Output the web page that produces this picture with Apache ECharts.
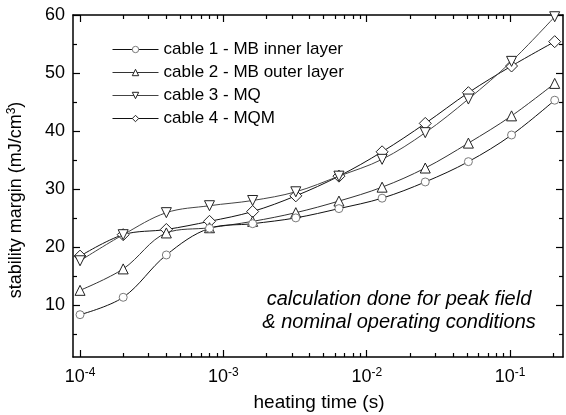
<!DOCTYPE html>
<html>
<head>
<meta charset="utf-8">
<script src="https://cdn.jsdelivr.net/npm/echarts@6/dist/echarts.min.js"></script>
<style>
  html, body { margin: 0; padding: 0; background: #fff; }
  #chart { width: 566px; height: 415px; }
</style>
</head>
<body>
<div id="chart"></div>
<script>
// heating times (s), doubling from 1e-4
var times = [1e-4, 2e-4, 4e-4, 8e-4, 1.6e-3, 3.2e-3, 6.4e-3, 1.28e-2, 2.56e-2, 5.12e-2, 1.024e-1, 2.048e-1];
// stability margin (mJ/cm3)
var cable1 = [8.3, 11.3, 18.6, 23.2, 24.0, 25.0, 26.6, 28.4, 31.2, 34.7, 39.3, 45.3];
var cable2 = [12.5, 16.2, 22.4, 23.3, 24.4, 25.9, 27.9, 30.3, 33.6, 37.9, 42.6, 48.2];
var cable3 = [17.6, 22.1, 25.9, 27.1, 28.0, 29.5, 32.2, 35.1, 39.7, 45.5, 52.0, 59.7];
var cable4 = [18.4, 22.1, 23.0, 24.4, 26.1, 28.8, 32.2, 36.4, 41.3, 46.6, 51.2, 55.4];
var seriesNames = ['cable 1 - MB inner layer', 'cable 2 - MB outer layer', 'cable 3 - MQ', 'cable 4 - MQM'];

var xMajor = [1e-4, 1e-3, 1e-2, 1e-1];
var yMajor = [10, 20, 30, 40, 50, 60];
var yMinor = [5, 15, 25, 35, 45, 55];

var X_MIN = 8.93e-5, X_MAX = 0.234;
var Y_MIN = 1, Y_MAX = 60;
var FONT = '"Liberation Sans", Arial, sans-serif';

// log minor ticks 2..9 x 10^k
var xMinor = [];
[1e-4, 1e-3, 1e-2, 1e-1].forEach(function (d) {
  for (var k = 2; k <= 9; k++) {
    var v = d * k;
    if (v < X_MAX) xMinor.push(v);
  }
});

function pairs(ys) {
  return ys.map(function (y, i) { return [times[i], y]; });
}

var chart = echarts.init(document.getElementById('chart'));

var gridBox = { left: 73, top: 15, right: 3, bottom: 58 };

function xAx(grid, pos, ticks, len, showLabel, showLine) {
  return {
    type: 'log', logBase: 10, gridIndex: grid, position: pos,
    min: X_MIN, max: X_MAX,
    axisLine: { show: showLine, onZero: false, lineStyle: { color: '#000', width: 1.5 } },
    axisTick: { show: true, inside: true, length: len, customValues: ticks, lineStyle: { color: '#000', width: 1.2 } },
    axisLabel: {
      show: showLabel, customValues: xMajor, margin: 10, color: '#000',
      formatter: function (v) {
        var e = Math.round(Math.log10(v));
        return '{b|10}{s|' + e + '}';
      },
      rich: {
        b: { fontSize: 18, fontFamily: FONT, color: '#000' },
        s: { fontSize: 12, fontFamily: FONT, color: '#000', verticalAlign: 'top', padding: [0, 0, 8, 0] }
      }
    },
    splitLine: { show: false },
    minorTick: { show: false }
  };
}

function yAx(grid, pos, ticks, len, showLabel, showLine) {
  return {
    type: 'value', gridIndex: grid, position: pos,
    min: Y_MIN, max: Y_MAX,
    axisLine: { show: showLine, onZero: false, lineStyle: { color: '#000', width: 1.5 } },
    axisTick: { show: true, inside: true, length: len, customValues: ticks, lineStyle: { color: '#000', width: 1.2 } },
    axisLabel: { show: showLabel, customValues: yMajor, margin: 8, color: '#000', fontSize: 18, fontFamily: FONT },
    splitLine: { show: false }
  };
}

var markers = [
  { symbol: 'circle', size: 8, rotate: 0, border: '#7a7a7a' },
  { symbol: 'triangle', size: 10, rotate: 0, border: '#222' },
  { symbol: 'triangle', size: 10, rotate: 180, border: '#222' },
  { symbol: 'diamond', size: 12, rotate: 0, border: '#222' }
];
var lineColors = ['#111', '#333', '#444', '#111'];

var series = [cable1, cable2, cable3, cable4].map(function (ys, i) {
  var m = markers[i];
  return {
    name: seriesNames[i],
    type: 'line',
    xAxisIndex: 0, yAxisIndex: 0,
    data: pairs(ys),
    smooth: 0.35,
    symbol: m.symbol,
    symbolSize: m.size,
    symbolRotate: m.rotate,
    showAllSymbol: true,
    color: lineColors[i],
    lineStyle: { color: lineColors[i], width: 1 },
    itemStyle: { color: '#fff', borderColor: m.border, borderWidth: 1 },
    z: 10 - i
  };
});

chart.setOption({
  backgroundColor: '#fff',
  animation: false,
  grid: [
    Object.assign({}, gridBox),
    Object.assign({}, gridBox)
  ],
  xAxis: [
    xAx(0, 'bottom', xMajor, 7, true, true),
    xAx(0, 'top', xMajor, 7, false, true),
    xAx(1, 'bottom', xMinor, 4, false, false),
    xAx(1, 'top', xMinor, 4, false, false)
  ],
  yAxis: [
    yAx(0, 'left', yMajor, 7, true, true),
    yAx(0, 'right', yMajor, 7, false, true),
    yAx(1, 'left', yMinor, 4, false, false),
    yAx(1, 'right', yMinor, 4, false, false)
  ],
  legend: {
    orient: 'vertical',
    left: 112, top: 41, padding: 0,
    itemWidth: 46, itemHeight: 8, itemGap: 6,
    lineStyle: { width: 1 },
    itemStyle: { borderWidth: 1 },
    textStyle: { fontSize: 17, fontFamily: FONT, color: '#000', lineHeight: 16 },
    data: seriesNames
  },
  graphic: [
    {
      type: 'text',
      x: 16, y: 200,
      rotation: Math.PI / 2,
      style: {
        text: 'stability margin (mJ/cm{s|3})',
        fill: '#000', font: '18px ' + FONT,
        align: 'center', verticalAlign: 'middle',
        rich: { s: { fontSize: 12, fontFamily: FONT, fill: '#000', verticalAlign: 'top', padding: [0, 0, 8, 0] } }
      }
    },
    {
      type: 'text',
      x: 319, y: 403,
      style: { text: 'heating time (s)', fill: '#000', font: '19px ' + FONT, align: 'center', verticalAlign: 'middle' }
    },
    {
      type: 'text',
      x: 399, y: 299,
      style: { text: 'calculation done for peak field', fill: '#000', font: 'italic 20px ' + FONT, align: 'center', verticalAlign: 'middle' }
    },
    {
      type: 'text',
      x: 399, y: 322,
      style: { text: '& nominal operating conditions', fill: '#000', font: 'italic 20px ' + FONT, align: 'center', verticalAlign: 'middle' }
    }
  ],
  series: series
});
</script>
</body>
</html>
